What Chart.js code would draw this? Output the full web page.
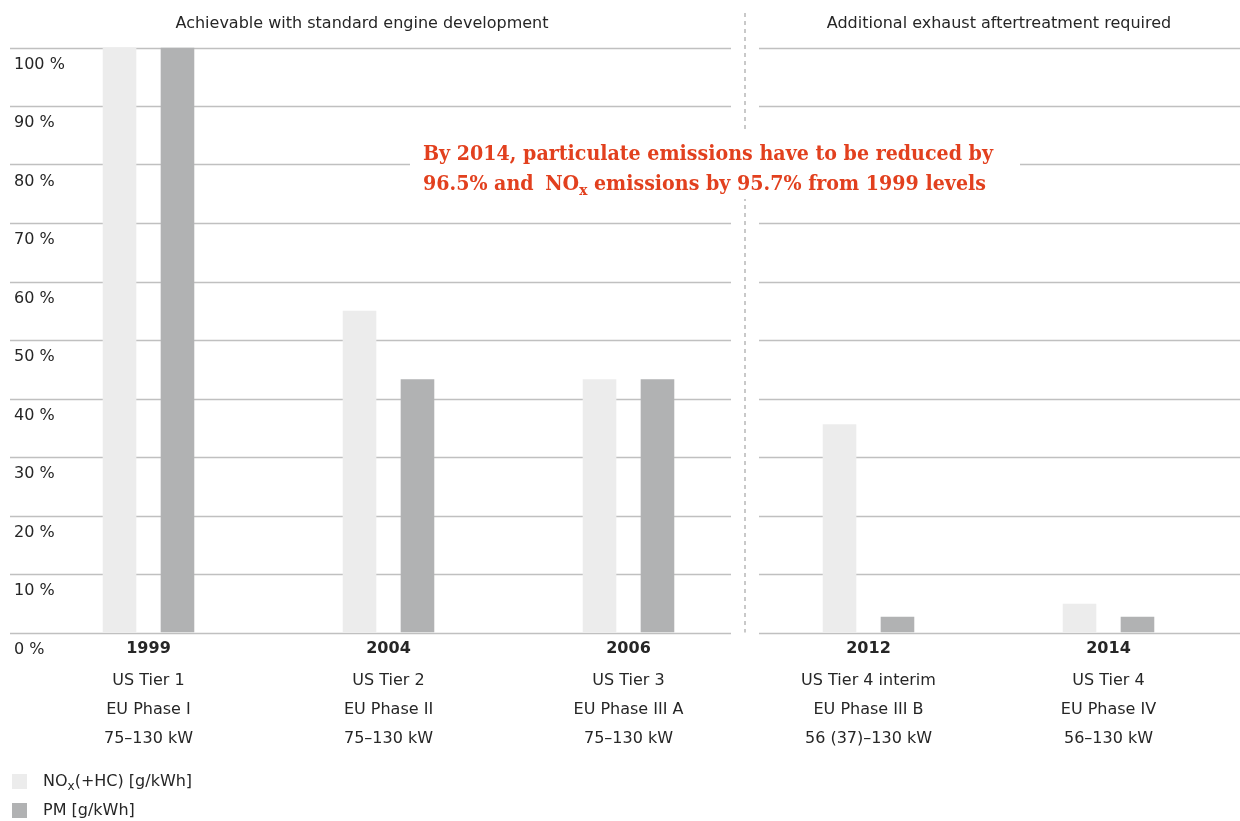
<!DOCTYPE html>
<html>
<head>
<meta charset="utf-8">
<script src="https://cdn.jsdelivr.net/npm/chart.js@4.4.1/dist/chart.umd.min.js"></script>
<style>
  html, body { margin: 0; padding: 0; background: #fff; }
  #wrap { width: 1240px; height: 821px; }
</style>
</head>
<body>
<div id="wrap"><canvas id="emChart" width="1240" height="821"></canvas></div>
<script>
// emission limits, relative to 1999 levels (%)
var years      = ['1999', '2004', '2006', '2012', '2014'];
var usStages   = ['US Tier 1', 'US Tier 2', 'US Tier 3', 'US Tier 4 interim', 'US Tier 4'];
var euStages   = ['EU Phase I', 'EU Phase II', 'EU Phase III A', 'EU Phase III B', 'EU Phase IV'];
var powerRange = ['75–130 kW', '75–130 kW', '75–130 kW', '56 (37)–130 kW', '56–130 kW'];
var noxValues  = [100, 55, 43.3, 35.6, 4.9];
var pmValues   = [100, 43.3, 43.3, 2.7, 2.7];
var yTicks     = [0, 10, 20, 30, 40, 50, 60, 70, 80, 90, 100];

var NOX_COLOR = '#ececec';
var PM_COLOR  = '#b1b2b3';
var GRID_COLOR = '#c0c0c0';
var TEXT_COLOR = '#262626';
var RED = '#e2401e';
var SANS = '"DejaVu Sans", "Liberation Sans", sans-serif';
var SERIF = '"DejaVu Serif", serif';

var SPLIT_X = 745;   // dashed divider between the two sections

// draws "NO" + subscript x + rest, returns end x
function drawNOx(ctx, x, y, size, rest, font, weight) {
    ctx.font = weight + ' ' + size + 'px ' + font;
    ctx.fillText('NO', x, y);
    x += ctx.measureText('NO').width;
    ctx.font = weight + ' ' + Math.round(size * 0.72) + 'px ' + font;
    ctx.fillText('x', x, y + size * 0.28);
    x += ctx.measureText('x').width;
    ctx.font = weight + ' ' + size + 'px ' + font;
    ctx.fillText(rest, x, y);
    return x + ctx.measureText(rest).width;
}

var gridPlugin = {
    id: 'gridPlugin',
    beforeDatasetsDraw: function (chart) {
        var ctx = chart.ctx;
        var yScale = chart.scales.y;
        ctx.save();
        ctx.strokeStyle = GRID_COLOR;
        ctx.lineWidth = 1.7;
        yTicks.forEach(function (v) {
            var y = Math.round(yScale.getPixelForValue(v)) + 0.5;
            ctx.beginPath();
            ctx.moveTo(10, y);
            ctx.lineTo(SPLIT_X - 14, y);
            ctx.moveTo(SPLIT_X + 14, y);
            ctx.lineTo(1240, y);
            ctx.stroke();
        });
        // dashed divider
        ctx.setLineDash([4, 4]);
        ctx.lineWidth = 1.5;
        ctx.strokeStyle = '#b8b8b8';
        ctx.beginPath();
        ctx.moveTo(SPLIT_X, 13);
        ctx.lineTo(SPLIT_X, yScale.getPixelForValue(0));
        ctx.stroke();
        ctx.restore();
    },
    afterDraw: function (chart) {
        var ctx = chart.ctx;
        var yScale = chart.scales.y;
        var xScale = chart.scales.x;
        ctx.save();

        // section headers
        ctx.fillStyle = TEXT_COLOR;
        ctx.font = '16px ' + SANS;
        ctx.textAlign = 'center';
        ctx.textBaseline = 'middle';
        ctx.fillText('Achievable with standard engine development', 362, 24);
        ctx.fillText('Additional exhaust aftertreatment required', 999, 24);

        // y labels sit just under their grid lines
        ctx.textAlign = 'left';
        yTicks.forEach(function (v) {
            ctx.fillText(v + ' %', 14, yScale.getPixelForValue(v) + 17);
        });

        // category labels
        ctx.textAlign = 'center';
        years.forEach(function (yr, i) {
            var x = xScale.getPixelForValue(i);
            ctx.font = 'bold 16px ' + SANS;
            ctx.fillText(yr, x, 649);
            ctx.font = '16px ' + SANS;
            ctx.fillText(usStages[i], x, 681);
            ctx.fillText(euStages[i], x, 710);
            ctx.fillText(powerRange[i], x, 739);
        });

        // callout box
        ctx.fillStyle = '#fff';
        ctx.fillRect(410, 131, 610, 68);
        ctx.fillStyle = RED;
        ctx.textAlign = 'left';
        ctx.textBaseline = 'alphabetic';
        var line1 = 'By 2014, particulate emissions have to be reduced by';
        var size = 19.5;
        ctx.font = 'bold ' + size + 'px ' + SERIF;
        var sx = 570 / ctx.measureText(line1).width;   // squeeze the wide serif a little
        ctx.save();
        ctx.translate(423, 0);
        ctx.scale(sx, 1);
        ctx.fillText(line1, 0, 160);
        ctx.fillText('96.5% and ', 0, 190);
        var nx = ctx.measureText('96.5% and ').width + 5;
        drawNOx(ctx, nx, 190, size, ' emissions by 95.7% from 1999 levels', SERIF, 'bold');
        ctx.restore();

        // legend
        ctx.fillStyle = NOX_COLOR;
        ctx.fillRect(12, 774, 15, 15);
        ctx.fillStyle = PM_COLOR;
        ctx.fillRect(12, 803, 15, 15);
        ctx.fillStyle = TEXT_COLOR;
        ctx.textBaseline = 'middle';
        drawNOx(ctx, 43, 782, 16, '(+HC) [g/kWh]', SANS, 'normal');
        ctx.font = '16px ' + SANS;
        ctx.fillText('PM [g/kWh]', 43, 811);

        ctx.restore();
    }
};

var ctx = document.getElementById('emChart').getContext('2d');
var emChart = new Chart(ctx, {
    type: 'bar',
    data: {
        labels: years,
        datasets: [{
            label: 'NOx(+HC) [g/kWh]',
            data: noxValues,
            backgroundColor: NOX_COLOR,
            categoryPercentage: 0.483,
            barPercentage: 0.58
        }, {
            label: 'PM [g/kWh]',
            data: pmValues,
            backgroundColor: PM_COLOR,
            categoryPercentage: 0.483,
            barPercentage: 0.58
        }]
    },
    options: {
        responsive: false,
        animation: false,
        devicePixelRatio: 1,
        layout: {
            padding: { left: 28.5, right: 11.5, top: 47.5, bottom: 188.5 }
        },
        plugins: {
            legend: { display: false },
            tooltip: { enabled: false }
        },
        scales: {
            x: { display: false },
            y: { display: false, min: 0, max: 100 }
        }
    },
    plugins: [gridPlugin]
});
</script>
</body>
</html>
